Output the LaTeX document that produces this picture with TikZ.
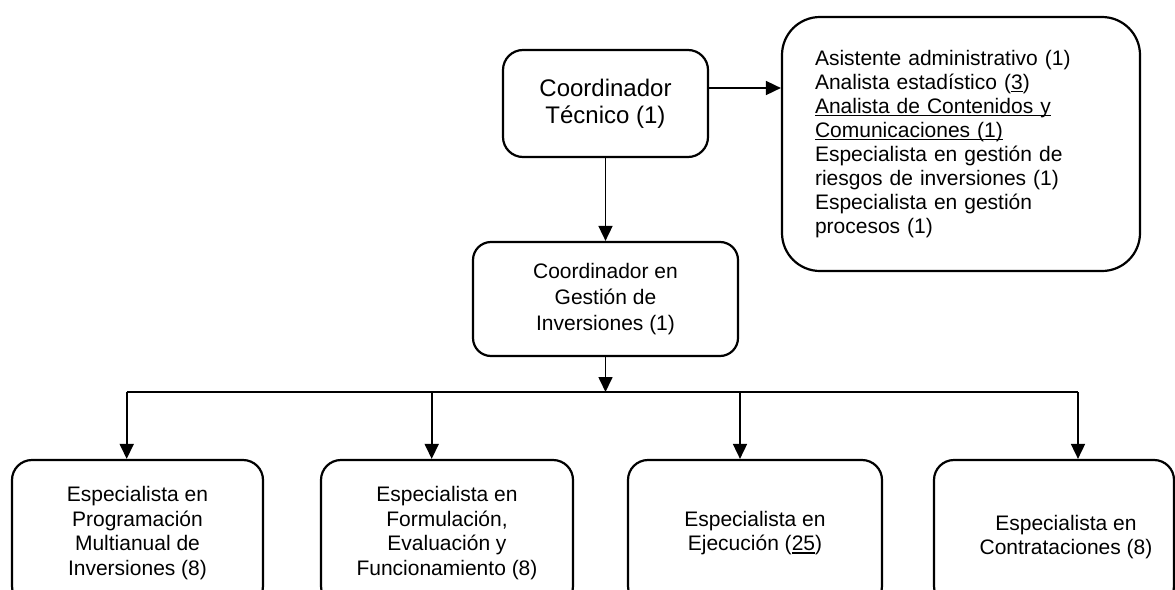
\documentclass[tikz,border=0pt]{standalone}
\usepackage{fontspec}
\setmainfont{Liberation Sans}
\usetikzlibrary{arrows.meta}
\newsavebox\ulbox
\newcommand\myul[1]{\leavevmode\sbox\ulbox{#1}\rlap{\rule[-3pt]{\wd\ulbox}{1.2pt}}\usebox\ulbox}
\begin{document}
\begin{tikzpicture}[x=1pt,y=-1pt,
  box/.style={draw, line width=2.2pt, rounded corners=#1, inner sep=0pt, align=center,
              font=\fontsize{21}{24.5}\selectfont},
  box/.default=20pt,
  lbl/.style={inner sep=0pt, align=center, font=\fontsize{21}{24.5}\selectfont},
  conn/.style={line width=1.7pt},
  arr/.style={conn, -{Triangle[length=15pt,width=14pt]}}]
\useasboundingbox (0,0) rectangle (1175,589);
\clip (0,0) rectangle (1175,589);

\node[box=20pt, minimum width=205pt, minimum height=107pt,
      font=\fontsize{24}{27}\selectfont] (ct) at (605.5,103.5) {Coordinador\\Técnico (1)};

\node[box=38pt, minimum width=358pt, minimum height=254pt, text width=292pt, align=left,
      font=\fontsize{21}{24}\selectfont] (rb) at (961,144) {%
Asistente administrativo (1)\\
Analista estadístico (\myul{3})\\
\myul{Analista de Contenidos y}\\
\myul{Comunicaciones (1)}\\
Especialista en gestión de\\
riesgos de inversiones (1)\\
Especialista en gestión\\
procesos (1)};

\node[box=18pt, minimum width=265pt, minimum height=114pt,
      font=\fontsize{21}{26}\selectfont] (cgi) at (605.5,299) {Coordinador en\\Gestión de\\Inversiones (1)};

\node[box=20pt, minimum width=251pt, minimum height=146pt] (b1) at (137.5,533)
  {Especialista en\\Programación\\Multianual de\\Inversiones (8)};
\node[box=20pt, minimum width=252pt, minimum height=146pt] (b2) at (447,533)
  {Especialista en\\Formulación,\\Evaluación y\\Funcionamiento (8)};
\node[box=20pt, minimum width=254pt, minimum height=146pt] (b3) at (755,533)
  {Especialista en\\Ejecución (\myul{25})};
\node[box=20pt, minimum width=240pt, minimum height=146pt] (b4) at (1054,533) {};
\node[lbl] (b4t) at (1066,537) {Especialista en\\Contrataciones (8)};

% connectors
\draw[arr] ([yshift=15.5pt]ct.east) -- ([yshift=15.5pt]ct.east -| rb.west);
\draw[arr] (ct.south) -- (cgi.north);

\coordinate (d1) at (126.7,392);
\coordinate (d2) at (431.7,392);
\coordinate (d3) at (740,392);
\coordinate (d4) at (1078,392);

\draw[arr] (cgi.south) -- (cgi.south |- d1);
\draw[conn] (d1) -- (d4);
\draw[arr] (d1) -- (d1 |- b1.north);
\draw[arr] (d2) -- (d2 |- b2.north);
\draw[arr] (d3) -- (d3 |- b3.north);
\draw[arr] (d4) -- (d4 |- b4.north);
\end{tikzpicture}
\end{document}
